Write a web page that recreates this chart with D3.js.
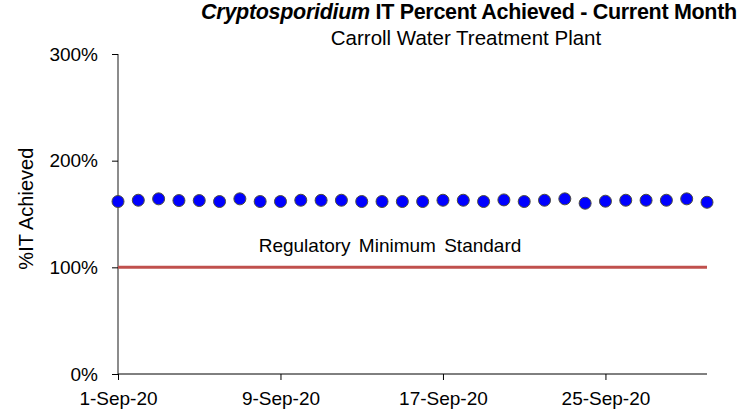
<!DOCTYPE html>
<html>
<head>
<meta charset="utf-8">
<script src="https://cdn.jsdelivr.net/npm/d3@7"></script>
<style>
  body { margin: 0; background: #fff; }
  text { font-family: Arial, "Liberation Sans", sans-serif; fill: #000; }
</style>
</head>
<body>
<div id="chart"></div>
<script>
//Chart data
var days = d3.range(1, 31);
var itPercent = [161.7, 162.9, 164.2, 162.6, 162.6, 161.7, 164.2, 161.7, 161.7, 162.9,
                 162.8, 162.9, 161.7, 161.7, 161.7, 161.7, 162.9, 162.9, 161.7, 163.2,
                 161.7, 162.9, 164.2, 160.1, 162.0, 162.9, 162.9, 162.9, 164.2, 161.0];
var regulatoryMinimum = 100;
var yTicks = [0, 100, 200, 300];
var xTickDays = [1, 9, 17, 25];

//SVG size
var svgWidth = 751;
var svgHeight = 416;

//Plot area inside the SVG
var margin = { top: 54, right: 44, bottom: 42, left: 118 };
var width = svgWidth - margin.left - margin.right;
var height = svgHeight - margin.top - margin.bottom;

var svg = d3.select("#chart")
  .append("svg")
  .attr("width", svgWidth)
  .attr("height", svgHeight);

var chartGroup = svg.append("g")
  .attr("transform", `translate(${margin.left}, ${margin.top})`);

//Scales
var dayDate = d => new Date(2020, 8, d);
var xTimeScale = d3.scaleTime()
  .domain([dayDate(1), dayDate(30)])
  .range([0, width]);

var yLinearScale = d3.scaleLinear()
  .domain([0, 300])
  .range([height, 0]);

//Axes
var leftAxis = d3.axisLeft(yLinearScale)
  .tickValues(yTicks)
  .tickFormat(d => d + "%")
  .tickSize(6)
  .tickPadding(14);

var bottomAxis = d3.axisBottom(xTimeScale)
  .tickValues(xTickDays.map(dayDate))
  .tickFormat(d3.timeFormat("%-d-%b-%y"))
  .tickSize(6)
  .tickPadding(12);

var yAxisG = chartGroup.append("g").call(leftAxis);
yAxisG.select(".domain").attr("stroke", "#666").attr("stroke-width", 1.5).attr("d", `M0,0V${height}`);
yAxisG.selectAll(".tick line").attr("stroke", "#000");
yAxisG.selectAll("text").style("font-size", "19px");

var xAxisG = chartGroup.append("g")
  .attr("transform", `translate(0, ${height})`)
  .call(bottomAxis);
xAxisG.select(".domain").attr("stroke", "#000").attr("d", `M0,0H${width}`);
xAxisG.selectAll("text").style("font-size", "19px");

//Regulatory minimum line
chartGroup.append("line")
  .attr("x1", 0)
  .attr("x2", width)
  .attr("y1", yLinearScale(regulatoryMinimum))
  .attr("y2", yLinearScale(regulatoryMinimum))
  .attr("stroke", "#C0504D")
  .attr("stroke-width", 3);

chartGroup.append("text")
  .attr("x", 272)
  .attr("y", yLinearScale(regulatoryMinimum) - 15)
  .attr("text-anchor", "middle")
  .style("font-size", "19px")
  .style("word-spacing", "3px")
  .text("Regulatory Minimum Standard");

//Daily points
chartGroup.selectAll("circle")
  .data(days)
  .enter()
  .append("circle")
  .attr("cx", (d, i) => xTimeScale(dayDate(d)))
  .attr("cy", (d, i) => yLinearScale(itPercent[i]))
  .attr("r", 6)
  .attr("fill", "#0000FF")
  .attr("stroke", "#4d4d40")
  .attr("stroke-width", 1);

//Titles
var title = svg.append("text")
  .attr("x", 469)
  .attr("y", 19)
  .attr("text-anchor", "middle")
  .style("font-size", "21.5px")
  .style("font-weight", "bold")
  .style("letter-spacing", "-0.3px");
title.append("tspan").style("font-style", "italic").text("Cryptosporidium");
title.append("tspan").text(" IT Percent Achieved - Current Month");

svg.append("text")
  .attr("x", 466)
  .attr("y", 45)
  .attr("text-anchor", "middle")
  .style("font-size", "20.5px")
  .text("Carroll Water Treatment Plant");

svg.append("text")
  .attr("transform", `translate(33, ${margin.top + yLinearScale(155)}) rotate(-90)`)
  .attr("text-anchor", "middle")
  .style("font-size", "20px")
  .text("%IT Achieved");
</script>
</body>
</html>
